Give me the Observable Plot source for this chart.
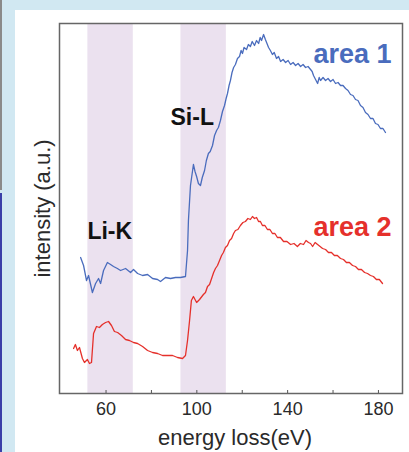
<!DOCTYPE html>
<html>
<head>
<meta charset="utf-8">
<script src="https://cdn.jsdelivr.net/npm/d3@7"></script>
<script src="https://cdn.jsdelivr.net/npm/@observablehq/plot@0.6"></script>
<style>
  html, body { margin: 0; padding: 0; }
  body { width: 409px; height: 452px; background: #d1e8f2; position: relative; overflow: hidden; font-family: "Liberation Sans", Arial, sans-serif; }
  #panel { position: absolute; left: 15px; top: 10px; width: 394px; height: 442px; background: #fff; }
  #stripA { position: absolute; left: 0; top: 0; width: 2px; height: 190px; background: #8a8a8a; }
  #stripB { position: absolute; left: 0; top: 193px; width: 2px; height: 259px; background: #3a3fa8; }
</style>
</head>
<body>
<div id="stripA"></div><div id="stripB"></div>
<div id="panel"></div>
<script>
// energy loss (eV) and intensity (a.u.)
const area1E = [48.8,50.1,51.4,52.3,54.0,55.4,56.7,57.6,58.9,60.6,62.0,63.3,65.0,66.4,68.6,70.8,72.1,73.9,76.1,78.3,80.5,82.7,84.0,86.2,88.4,90.6,92.8,95.0,95.9,96.3,97.2,
  98.5,99.2,99.9,100.7,101.6,102.4,103.4,104.2,105.1,105.9,106.9,107.8,108.7,109.5,110.4,111.3,112.2,112.9,113.5,114.2,114.8,115.5,116.2,117.0,117.9,118.8,119.5,120.1,120.8,121.9,122.7,123.6,124.4,125.4,126.3,127.2,127.9,128.5,129.4,130.2,130.9,131.6,132.4,133.3,134.1,135.1,136.0,136.9,138.0,139.1,140.2,141.3,142.4,143.5,144.6,145.7,146.8,147.9,149.0,150.1,150.8,151.4,152.3,153.2,153.9,154.5,155.6,156.7,157.8,158.9,160.0,161.1,162.2,163.3,164.4,165.5,166.6,167.7,168.8,169.9,171.0,172.1,173.2,174.3,175.4,176.5,177.6,178.7,179.8,180.9,182.0,183.1];
const area1I = [13.6,12.8,11.3,11.8,10.1,11.0,11.5,11.0,12.3,13.1,12.9,12.7,12.5,12.3,12.5,12.1,12.4,12.0,11.8,11.9,11.5,11.4,11.2,11.6,11.5,11.6,11.6,11.7,14.3,17.3,20.8,
  22.9,22.2,21.7,21.0,20.8,21.6,22.3,23.3,24.0,24.2,24.8,25.8,26.3,26.6,27.3,28.2,28.8,29.5,30.0,30.8,31.3,32.1,32.6,32.9,33.5,33.7,34.3,34.0,34.6,34.4,34.9,34.7,35.2,34.8,35.3,35.0,35.6,35.3,35.9,35.4,35.0,34.6,34.3,33.9,34.1,33.5,33.7,33.2,33.4,33.1,33.3,32.9,33.1,32.8,33.0,32.7,32.9,32.6,32.7,32.4,32.2,31.8,31.4,31.0,31.6,31.3,31.6,31.3,31.5,31.2,31.4,31.0,31.1,30.8,30.8,30.5,30.3,29.9,29.8,29.4,29.3,28.8,28.6,28.1,27.9,27.5,27.5,27.0,26.9,26.5,26.5,26.1];
const area2E = [45.7,46.5,47.4,48.3,49.6,50.5,51.8,52.7,53.6,54.5,55.8,57.1,58.4,59.8,61.1,62.4,63.7,65.1,66.8,68.6,70.3,72.1,73.9,76.1,78.3,80.5,82.7,84.9,87.1,89.3,91.5,93.7,95.0,95.9,96.8,97.6,98.5,99.9,101.2,
  102.9,103.8,104.7,105.6,106.5,107.4,108.2,109.1,110.0,110.9,111.7,112.6,113.5,114.4,115.3,116.2,117.0,118.1,119.2,120.3,121.4,122.5,123.6,124.5,125.4,126.3,127.2,128.0,128.9,130.0,131.1,132.2,133.3,134.4,135.5,136.8,138.2,139.7,141.3,142.8,144.3,145.6,147.0,148.1,149.2,150.1,151.0,152.1,153.2,154.3,155.4,156.7,158.0,159.3,160.6,161.9,163.3,164.6,165.9,167.2,168.6,169.9,171.2,172.5,173.9,175.2,176.5,177.8,179.1,180.4,181.8];
const area2I = [4.5,4.9,4.3,4.6,3.5,3.1,3.4,3.0,3.1,6.0,6.7,6.6,6.9,7.1,7.2,6.8,6.2,6.1,5.8,5.4,5.3,5.1,5.0,4.7,4.3,4.1,4.0,3.8,3.8,3.8,3.6,3.5,3.8,5.3,7.3,9.3,9.7,9.1,9.4,
  9.9,10.1,10.7,10.9,11.5,12.1,12.5,12.8,13.3,13.8,14.1,14.6,14.8,15.3,15.5,16.0,16.3,16.4,16.8,17.1,17.2,17.5,17.4,17.7,17.5,17.6,17.2,17.2,16.8,16.8,16.4,16.4,16.0,16.0,15.6,15.6,15.2,15.2,14.9,15.0,14.7,15.0,14.9,15.3,15.1,15.0,14.7,15.1,14.9,14.7,14.5,14.4,14.1,14.1,13.8,13.8,13.5,13.4,13.1,13.1,12.8,12.7,12.4,12.4,12.1,12.0,11.8,11.7,11.4,11.4,11.0];
const bandStart = [52, 93];
const bandEnd = [72, 113];
const tickLabels = [60, 100, 140, 180];
const minorTicks = [60, 80, 100, 120, 140, 160, 180];
const edgeNames = ["Li-K", "Si-L"];
const edgeE = [51.8, 88.4];
const edgeI = [15.5, 26.9];
const seriesNames = ["area 1", "area 2"];
const seriesLabelE = [151.4, 151.4];
const seriesLabelI = [33.1, 15.8];
const seriesColors = ["#4a6cbd", "#e5302b"];
const xLabel = "energy loss(eV)";
const yLabel = "intensity (a.u.)";

const bands = bandStart.map((s, i) => ({x1: s, x2: bandEnd[i]}));
const s1 = area1E.map((e, i) => ({e, v: area1I[i]}));
const s2 = area2E.map((e, i) => ({e, v: area2I[i]}));
const edges = edgeNames.map((n, i) => ({n, e: edgeE[i], v: edgeI[i]}));
const names = seriesNames.map((n, i) => ({n, e: seriesLabelE[i], v: seriesLabelI[i], c: seriesColors[i]}));

const W = 394, H = 442, mT = 13, mB = 59, mL = 44, mR = 7;
const plotH = H - mT - mB;

const chart = Plot.plot({
  width: W, height: H,
  marginTop: mT, marginBottom: mB, marginLeft: mL, marginRight: mR,
  style: {fontFamily: "'Liberation Sans', Arial, sans-serif", background: "transparent"},
  x: {domain: [39.5, 190.6]},
  y: {domain: [0, 37], axis: null},
  marks: [
    Plot.rect(bands, {x1: "x1", x2: "x2", fill: "#ebe1ef"}),
    Plot.line(s1, {x: "e", y: "v", stroke: seriesColors[0], strokeWidth: 1.3}),
    Plot.line(s2, {x: "e", y: "v", stroke: seriesColors[1], strokeWidth: 1.3}),
    Plot.frame({stroke: "#666", strokeWidth: 1.5}),
    Plot.tickX(minorTicks, {x: d => d, insetTop: plotH - 3, stroke: "#555", strokeWidth: 1}),
    Plot.axisX({ticks: tickLabels, tickSize: 0, tickPadding: 9, fontSize: 18, fill: "#2a2a2a", label: null}),
    Plot.text(edges, {x: "e", y: "v", text: "n", textAnchor: "start", lineAnchor: "bottom", fontSize: 23, fontWeight: "bold", fill: "#111"}),
    Plot.text(names, {x: "e", y: "v", text: "n", textAnchor: "start", lineAnchor: "bottom", fontSize: 27, fontWeight: "bold", fill: "c"}),
    Plot.text([xLabel], {frameAnchor: "bottom", text: d => d, textAnchor: "middle", lineAnchor: "bottom", dy: 51, dx: 4, fontSize: 22, fill: "#2a2a2a"}),
    Plot.text([yLabel], {frameAnchor: "left", text: d => d, rotate: -90, textAnchor: "middle", lineAnchor: "bottom", dx: -10, fontSize: 22, fill: "#2a2a2a"})
  ]
});
document.getElementById("panel").appendChild(chart);
</script>
</body>
</html>
